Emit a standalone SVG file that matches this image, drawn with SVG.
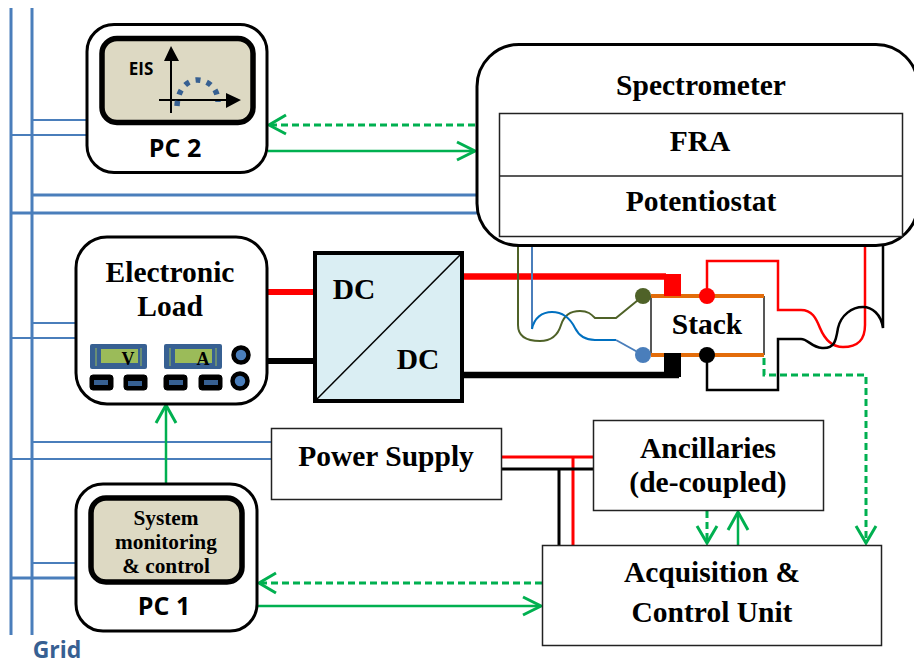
<svg xmlns="http://www.w3.org/2000/svg" width="914" height="666" viewBox="0 0 914 666">
<style>
.ser{font-family:"Liberation Serif",serif;font-weight:bold;fill:#000;text-anchor:middle}
.san{font-family:"Open Sans","Liberation Sans",sans-serif;font-weight:bold;fill:#000;text-anchor:middle}
.node{fill:#fff;stroke:#000;stroke-width:3}
.box{fill:#fff;stroke:#222;stroke-width:1.5}
.scr{fill:#DDD9C3;stroke:#000;stroke-width:5.5}
.g3{stroke:#4A7EBB;stroke-width:3;fill:none}
.g2{stroke:#4A7EBB;stroke-width:2;fill:none}
.ga{stroke:#00B050;stroke-width:2.5;fill:none}
.gd{stroke:#00B050;stroke-width:3;fill:none;stroke-dasharray:7 4}
.hd{stroke:#00B050;stroke-width:3;fill:none}
.meter{fill:#376092}
.lcd{fill:#9BBB59}
.btn{fill:#000;stroke:#000}
</style>
<g id="connectors">
<path class="g3" d="M11 8V635M32 8V635"/>
<path class="g2" d="M32 120H87M11 135H87M32 442H272M11 459H272M32 563H76"/>
<path class="g3" d="M32 195H478M11 213H478M11 578H76"/>
<path class="g2" d="M32 323H76M11 338H76"/>
<path class="gd" d="M270 125H476"/><path class="hd" d="M286 115L269 125L286 134"/>
<path class="ga" d="M268 151H474"/><path class="hd" d="M457 142L475 151L457 160"/>
<path class="ga" d="M166 483V406"/><path class="hd" d="M156 423L166 405L176 423"/>
<path class="gd" d="M260 583H542"/><path class="hd" d="M276 573L259 583L276 593"/>
<path class="ga" d="M257 606H540"/><path class="hd" d="M523 597L541 606L523 615"/>
<path d="M267 292H314" stroke="#f00" stroke-width="6" fill="none"/>
<path d="M267 361H314" stroke="#000" stroke-width="6" fill="none"/>
<path d="M462 276.500H666" stroke="#f00" stroke-width="6.500" fill="none"/>
<rect x="664" y="274" width="17" height="22" fill="#f00"/>
<path d="M462 375H679" stroke="#000" stroke-width="6.500" fill="none"/>
<rect x="664" y="353" width="17" height="24" fill="#000"/>
<path d="M518 237V325C518 338 528 341 540 341C552 341 558 335 561 325C564 315 570 311 580 311C588 311 591 314 595 318H616L643 296" stroke="#4F6228" stroke-width="2" fill="none"/>
<path d="M532 237V329" stroke="#4A7EBB" stroke-width="2" fill="none"/>
<path d="M532 329C534 318 542 312 552 312C564 312 571 320 575 328C579 336 586 340 595 340H616" stroke="#0070C0" stroke-width="2" fill="none"/>
<path d="M616 340L643 355" stroke="#4A7EBB" stroke-width="2" fill="none"/>
<path d="M707 296V261H778V310H801C812 310 816 318 820 328C825 340 832 347 843 347C858 347 865 340 865 325V237" stroke="#f00" stroke-width="2.500" fill="none"/>
<path d="M707 355V390H778V339H801C808 339 811 347 822 348C835 349 836 340 838 328C841 315 852 307 863 307C872 307 881 314 883 328V237" stroke="#000" stroke-width="2.500" fill="none"/>
<path class="gd" d="M764 358V375H866V543"/><path class="hd" d="M856 526L866 543L876 526"/>
<path d="M502 457H593M573 457V545" stroke="#f00" stroke-width="3" fill="none"/>
<path d="M502 469H593M559 469V545" stroke="#000" stroke-width="3" fill="none"/>
<path class="gd" d="M707 511V543"/><path class="hd" d="M697 526L707 543L717 526"/>
<path class="ga" d="M738 545V513"/><path class="hd" d="M728 530L738 512L748 530"/>
</g>
<g id="pc2">
<rect class="node" x="87" y="24.500" width="180" height="148" rx="27"/>
<rect class="scr" x="102" y="38.500" width="151" height="84" rx="15"/>
<text class="san" x="141" y="75" font-size="17">EIS</text>
<path d="M171 113V58M159 100H226" stroke="#000" stroke-width="2" fill="none"/>
<path d="M171 46L164 61H179ZM241 100L226 93V108Z" fill="#000"/>
<path d="M177 106C178 86 190 80 197 80C208 80 218 88 218 102" stroke="#376092" stroke-width="5.500" stroke-dasharray="5 6.500" fill="none"/>
<text class="san" x="175" y="157" font-size="25">PC 2</text>
</g>
<g id="spectrometer">
<rect class="node" x="477" y="44.500" width="441" height="201" rx="42"/>
<rect class="box" x="499.500" y="113.500" width="403" height="123"/>
<path d="M499 176H903" stroke="#222" stroke-width="1.500"/>
<text class="ser" x="701" y="95" font-size="29.500">Spectrometer</text>
<text class="ser" x="700" y="151" font-size="29.500">FRA</text>
<text class="ser" x="701" y="211" font-size="29.500">Potentiostat</text>
</g>
<g id="electronic-load">
<rect class="node" x="76" y="237" width="191" height="167" rx="31"/>
<text class="ser" x="170" y="282" font-size="29.500">Electronic</text>
<text class="ser" x="170" y="316" font-size="29.500">Load</text>
<rect class="meter" x="90" y="344" width="57" height="25" rx="2"/>
<rect class="lcd" x="101" y="349" width="37" height="14"/>
<path d="M96 348V366M141 348V366" stroke="#9BBB59" stroke-width="1"/>
<text class="ser" x="128" y="365" font-size="18">V</text>
<rect class="meter" x="164" y="344" width="58" height="25" rx="2"/>
<rect class="lcd" x="175" y="349" width="37" height="14"/>
<path d="M170 348V366M216 348V366" stroke="#9BBB59" stroke-width="1"/>
<text class="ser" x="203" y="365" font-size="18">A</text>
<g id="load-buttons">
<rect class="btn" x="90" y="375" width="23" height="15" rx="3"/><rect class="meter" x="94" y="380" width="14" height="5"/>
<rect class="btn" x="124" y="375" width="23" height="15" rx="3"/><rect class="meter" x="128" y="381" width="14" height="5"/>
<rect class="btn" x="164" y="375" width="23" height="15" rx="3"/><rect class="meter" x="169" y="380" width="14" height="5"/>
<rect class="btn" x="199" y="375" width="23" height="15" rx="3"/><rect class="meter" x="204" y="380" width="14" height="5"/>
</g>
<circle cx="241" cy="355" r="7.500" fill="#4A7EBB" stroke="#000" stroke-width="4.500"/>
<circle cx="240" cy="381" r="7.500" fill="#4A7EBB" stroke="#000" stroke-width="4.500"/>
</g>
<g id="dc-dc">
<rect x="315" y="253" width="147" height="148" fill="#DAEEF3" stroke="#000" stroke-width="4"/>
<path d="M315 401L462 253" stroke="#000" stroke-width="1.500"/>
<text class="ser" x="354" y="299" font-size="29.500">DC</text>
<text class="ser" x="418" y="369" font-size="29.500">DC</text>
</g>
<g id="stack">
<path d="M651 296V355M764 296V355" stroke="#222" stroke-width="1.500" fill="none"/>
<path d="M651 296H764M651 355H764" stroke="#E36C0A" stroke-width="4" fill="none"/>
<rect x="664" y="282" width="17" height="14" fill="#f00"/>
<rect x="664" y="353" width="17" height="16" fill="#000"/>
<circle cx="643" cy="296" r="8" fill="#4F6228"/>
<circle cx="707" cy="296" r="8" fill="#f00"/>
<circle cx="643" cy="355" r="8" fill="#4A7EBB"/>
<circle cx="707" cy="355" r="8" fill="#000"/>
<text class="ser" x="707" y="334" font-size="29.500">Stack</text>
</g>
<g id="power-supply">
<rect class="box" x="271.500" y="428.500" width="230" height="71"/>
<text class="ser" x="386" y="466" font-size="29.500">Power Supply</text>
</g>
<g id="ancillaries">
<rect class="box" x="593.500" y="420.500" width="230" height="90"/>
<text class="ser" x="708" y="458" font-size="29.500">Ancillaries</text>
<text class="ser" x="708" y="492" font-size="29.500">(de-coupled)</text>
</g>
<g id="acquisition">
<rect class="box" x="542.500" y="545.500" width="339" height="100"/>
<text class="ser" x="712" y="582" font-size="29.500">Acquisition &amp;</text>
<text class="ser" x="712" y="622" font-size="29.500">Control Unit</text>
</g>
<g id="pc1">
<rect class="node" x="76" y="484" width="181" height="147" rx="27"/>
<rect class="scr" x="91" y="498" width="151" height="84" rx="15"/>
<text class="ser" x="166" y="525" font-size="21.300">System</text>
<text class="ser" x="166" y="549" font-size="21.300">monitoring</text>
<text class="ser" x="166" y="573" font-size="21.300">&amp; control</text>
<text class="san" x="164" y="615" font-size="25">PC 1</text>
</g>
<text id="grid-label" x="57" y="658" font-family="'Open Sans','Liberation Sans',sans-serif" font-weight="bold" font-size="23" fill="#376092" text-anchor="middle">Grid</text>
</svg>
